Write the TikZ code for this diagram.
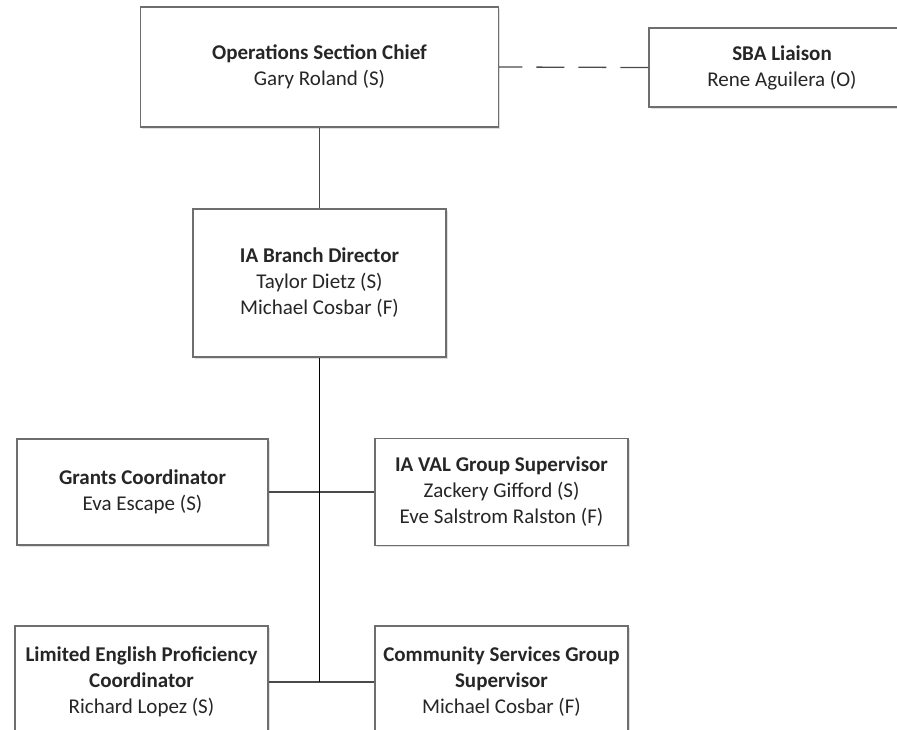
\documentclass[tikz,border=0pt]{standalone}
\usepackage{fontspec}
\setmainfont{Carlito}
\usetikzlibrary{shadows}
\definecolor{boxline}{HTML}{6E6E6E}
\definecolor{conline}{HTML}{4A4A4A}
\definecolor{txt}{HTML}{262626}
\tikzset{
  orgbox/.style={draw=boxline, line width=1.3pt, fill=white, align=center,
    text=txt, inner sep=2pt,
    font=\fontsize{21}{26}\selectfont,
    drop shadow={shadow xshift=1.5pt, shadow yshift=-1.5pt, opacity=0.25}},
  conn/.style={draw=conline, line width=1.3pt},
  mainconn/.style={draw=black, line width=1.8pt},
  dashconn/.style={draw=conline, line width=1.3pt, dash pattern=on 28pt off 14pt}
}
\begin{document}
\begin{tikzpicture}[x=1pt,y=-1pt]
\useasboundingbox (0,0) rectangle (897,729);
\clip (0,0) rectangle (897,729);
\node[orgbox, minimum width=358pt, minimum height=120pt] (ops) at (319.5,67)
  {\textbf{Operations Section Chief}\\Gary Roland (S)};
\node[orgbox, minimum width=266pt, minimum height=79pt] (sba) at (782,67.5)
  {\textbf{SBA Liaison}\\Rene Aguilera (O)};
\node[orgbox, minimum width=253pt, minimum height=148pt] (ia) at (319.5,283)
  {\textbf{IA Branch Director}\\Taylor Dietz (S)\\Michael Cosbar (F)};
\node[orgbox, minimum width=251pt, minimum height=106pt] (grants) at (142.5,492)
  {\textbf{Grants Coordinator}\\Eva Escape (S)};
\node[orgbox, minimum width=253pt, minimum height=107pt] (iaval) at (501.5,492)
  {\textbf{IA VAL Group Supervisor}\\Zackery Gifford (S)\\Eve Salstrom Ralston (F)};
\node[orgbox, minimum width=253pt, minimum height=112pt] (lep) at (141.5,682)
  {\textbf{Limited English Proficiency}\\\textbf{Coordinator}\\Richard Lopez (S)};
\node[orgbox, minimum width=253pt, minimum height=112pt] (cs) at (501.5,682)
  {\textbf{Community Services Group}\\\textbf{Supervisor}\\Michael Cosbar (F)};
\coordinate (bot) at (ia.south |- lep.east);
\draw[conn] (ops.south) -- (ia.north);
\draw[dashconn] (sba.west) -- (ops.east);
\draw[conn] (grants.east) -- (iaval.west);
\draw[conn] (lep.east) -- (cs.west);
\draw[mainconn] (ia.south) -- (bot);
\end{tikzpicture}
\end{document}
